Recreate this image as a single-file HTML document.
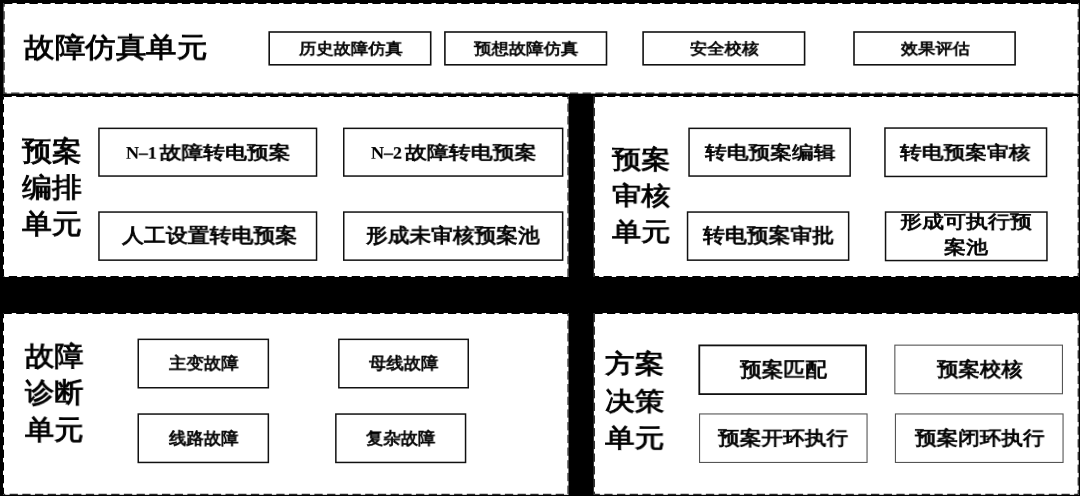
<!DOCTYPE html>
<html><head><meta charset="utf-8"><style>
html,body{margin:0;padding:0;background:#000;width:1080px;height:496px;overflow:hidden}
svg{position:absolute;left:0;top:0}
.t{position:absolute;white-space:nowrap;font-family:"Liberation Serif",serif;font-weight:normal;color:#000;transform-origin:0 0;will-change:transform}
</style></head><body>
<svg width="1080" height="496" viewBox="0 0 1080 496">
<rect x="0" y="0" width="1080" height="496" fill="#000"/>
<rect x="3.6" y="3.0" width="1075.10" height="90.60" fill="#fff"/>
<rect x="4.10" y="3.50" width="1074.10" height="89.60" fill="none" stroke="#000" stroke-width="1.0" stroke-dasharray="8.3 4.4"/>
<rect x="3.0" y="96.0" width="565.50" height="181.00" fill="#fff"/>
<rect x="3.50" y="96.50" width="564.50" height="180.00" fill="none" stroke="#000" stroke-width="1.0" stroke-dasharray="8.3 4.4"/>
<rect x="593.8" y="96.0" width="484.90" height="181.00" fill="#fff"/>
<rect x="594.30" y="96.50" width="483.90" height="180.00" fill="none" stroke="#000" stroke-width="1.0" stroke-dasharray="8.3 4.4"/>
<rect x="3.0" y="313.0" width="565.50" height="181.80" fill="#fff"/>
<rect x="3.50" y="313.50" width="564.50" height="180.80" fill="none" stroke="#000" stroke-width="1.0" stroke-dasharray="8.3 4.4"/>
<rect x="593.8" y="313.0" width="484.90" height="181.80" fill="#fff"/>
<rect x="594.30" y="313.50" width="483.90" height="180.80" fill="none" stroke="#000" stroke-width="1.0" stroke-dasharray="8.3 4.4"/>
<rect x="269.20" y="32.00" width="161.50" height="32.80" fill="none" stroke="#111" stroke-width="1.6"/>
<rect x="444.90" y="32.00" width="161.60" height="32.80" fill="none" stroke="#111" stroke-width="1.6"/>
<rect x="643.10" y="32.00" width="161.50" height="32.80" fill="none" stroke="#111" stroke-width="1.6"/>
<rect x="854.00" y="32.00" width="161.10" height="32.80" fill="none" stroke="#111" stroke-width="1.6"/>
<rect x="98.95" y="128.35" width="217.60" height="47.70" fill="none" stroke="#111" stroke-width="1.5"/>
<rect x="98.95" y="212.05" width="217.60" height="48.10" fill="none" stroke="#111" stroke-width="1.5"/>
<rect x="343.75" y="128.35" width="218.90" height="47.70" fill="none" stroke="#111" stroke-width="1.5"/>
<rect x="343.75" y="212.05" width="218.90" height="48.10" fill="none" stroke="#111" stroke-width="1.5"/>
<rect x="689.05" y="128.35" width="161.10" height="47.70" fill="none" stroke="#111" stroke-width="1.5"/>
<rect x="687.55" y="212.05" width="161.10" height="48.10" fill="none" stroke="#111" stroke-width="1.5"/>
<rect x="884.95" y="128.05" width="161.60" height="48.40" fill="none" stroke="#111" stroke-width="1.5"/>
<rect x="885.55" y="212.05" width="161.40" height="48.50" fill="none" stroke="#111" stroke-width="1.5"/>
<rect x="138.25" y="339.35" width="130.10" height="48.40" fill="none" stroke="#111" stroke-width="1.5"/>
<rect x="138.25" y="414.05" width="130.10" height="48.40" fill="none" stroke="#111" stroke-width="1.5"/>
<rect x="338.85" y="339.35" width="129.40" height="48.40" fill="none" stroke="#111" stroke-width="1.5"/>
<rect x="335.85" y="414.05" width="129.70" height="48.40" fill="none" stroke="#111" stroke-width="1.5"/>
<rect x="699.30" y="345.40" width="166.70" height="48.70" fill="none" stroke="#111" stroke-width="1.8"/>
<rect x="699.55" y="413.95" width="167.50" height="48.50" fill="none" stroke="#555" stroke-width="1.1"/>
<rect x="894.85" y="345.15" width="167.60" height="48.60" fill="none" stroke="#555" stroke-width="1.1"/>
<rect x="895.45" y="413.95" width="167.60" height="48.50" fill="none" stroke="#555" stroke-width="1.1"/>
</svg>
<div id="t1" class="t" style="left:24.00px;top:31.28px;font-size:30px;line-height:36px;transform:scale(1.0169,0.917);-webkit-text-stroke:1.0px #000;text-align:left;">故障仿真单元</div>
<div id="t2" class="t" style="left:298.56px;top:39.52px;font-size:18px;line-height:20px;transform:scale(0.9601,0.864);-webkit-text-stroke:0.8px #000;text-align:left;">历史故障仿真</div>
<div id="t3" class="t" style="left:474.00px;top:39.52px;font-size:18px;line-height:20px;transform:scale(0.9658,0.867);-webkit-text-stroke:0.8px #000;text-align:left;">预想故障仿真</div>
<div id="t4" class="t" style="left:689.88px;top:39.52px;font-size:18px;line-height:20px;transform:scale(0.9588,0.864);-webkit-text-stroke:0.8px #000;text-align:left;">安全校核</div>
<div id="t5" class="t" style="left:900.78px;top:39.52px;font-size:18px;line-height:20px;transform:scale(0.954,0.864);-webkit-text-stroke:0.8px #000;text-align:left;">效果评估</div>
<div id="t6" class="t" style="left:22.12px;top:133.00px;font-size:30px;line-height:40.19px;transform:scale(0.9976,0.91);-webkit-text-stroke:1.0px #000;text-align:left;">预案<br>编排<br>单元</div>
<div id="t7" class="t" style="left:126.22px;top:142.78px;font-size:22px;line-height:24px;transform:scale(0.9907,0.823);-webkit-text-stroke:0.9px #000;text-align:left;"><span style="display:inline-block;width:34px"><span style="display:inline-block;transform:scaleX(0.82);transform-origin:0 0;font-weight:bold;-webkit-text-stroke:0.2px #000">N–1</span></span>故障转电预案</div>
<div id="t8" class="t" style="left:121.66px;top:224.88px;font-size:22px;line-height:24px;transform:scale(0.9954,0.899);-webkit-text-stroke:0.9px #000;text-align:left;">人工设置转电预案</div>
<div id="t9" class="t" style="left:371.12px;top:142.78px;font-size:22px;line-height:24px;transform:scale(0.9968,0.823);-webkit-text-stroke:0.9px #000;text-align:left;"><span style="display:inline-block;width:34px"><span style="display:inline-block;transform:scaleX(0.82);transform-origin:0 0;font-weight:bold;-webkit-text-stroke:0.2px #000">N–2</span></span>故障转电预案</div>
<div id="t10" class="t" style="left:366.22px;top:224.88px;font-size:22px;line-height:24px;transform:scale(0.9866,0.899);-webkit-text-stroke:0.9px #000;text-align:left;">形成未审核预案池</div>
<div id="t11" class="t" style="left:612.34px;top:140.98px;font-size:30px;line-height:43.18px;transform:scale(0.9745,0.842);-webkit-text-stroke:1.0px #000;text-align:left;">预案<br>审核<br>单元</div>
<div id="t12" class="t" style="left:704.88px;top:142.78px;font-size:22px;line-height:24px;transform:scale(0.9881,0.823);-webkit-text-stroke:0.9px #000;text-align:left;">转电预案编辑</div>
<div id="t13" class="t" style="left:703.12px;top:224.88px;font-size:22px;line-height:24px;transform:scale(0.9935,0.899);-webkit-text-stroke:0.9px #000;text-align:left;">转电预案审批</div>
<div id="t14" class="t" style="left:900.22px;top:142.78px;font-size:22px;line-height:24px;transform:scale(0.9881,0.823);-webkit-text-stroke:0.9px #000;text-align:left;">转电预案审核</div>
<div id="t15" class="t" style="left:900.42px;top:209.10px;font-size:22px;line-height:31.4px;transform:scale(0.9992,0.819);-webkit-text-stroke:0.9px #000;text-align:center;width:132px;">形成可执行预<br>案池</div>
<div id="t16" class="t" style="left:24.56px;top:338.12px;font-size:30px;line-height:40.32px;transform:scale(0.9758,0.91);-webkit-text-stroke:1.0px #000;text-align:left;">故障<br>诊断<br>单元</div>
<div id="t17" class="t" style="left:169.00px;top:354.08px;font-size:18px;line-height:20px;transform:scale(0.9667,0.92);-webkit-text-stroke:0.8px #000;text-align:left;">主变故障</div>
<div id="t18" class="t" style="left:168.56px;top:429.20px;font-size:18px;line-height:20px;transform:scale(0.9649,0.934);-webkit-text-stroke:0.8px #000;text-align:left;">线路故障</div>
<div id="t19" class="t" style="left:369.22px;top:354.08px;font-size:18px;line-height:20px;transform:scale(0.9633,0.924);-webkit-text-stroke:0.8px #000;text-align:left;">母线故障</div>
<div id="t20" class="t" style="left:366.22px;top:429.20px;font-size:18px;line-height:20px;transform:scale(0.9627,0.934);-webkit-text-stroke:0.8px #000;text-align:left;">复杂故障</div>
<div id="t21" class="t" style="left:605.22px;top:345.30px;font-size:30px;line-height:43.52px;transform:scale(0.9902,0.855);-webkit-text-stroke:1.0px #000;text-align:left;">方案<br>决策<br>单元</div>
<div id="t22" class="t" style="left:740.12px;top:358.66px;font-size:22px;line-height:24px;transform:scale(0.987,0.91);-webkit-text-stroke:0.9px #000;text-align:left;">预案匹配</div>
<div id="t23" class="t" style="left:718.22px;top:428.12px;font-size:22px;line-height:24px;transform:scale(0.9856,0.869);-webkit-text-stroke:0.9px #000;text-align:left;">预案开环执行</div>
<div id="t24" class="t" style="left:936.78px;top:358.66px;font-size:22px;line-height:24px;transform:scale(0.975,0.885);-webkit-text-stroke:0.9px #000;text-align:left;">预案校核</div>
<div id="t25" class="t" style="left:915.22px;top:428.12px;font-size:22px;line-height:24px;transform:scale(0.9814,0.869);-webkit-text-stroke:0.9px #000;text-align:left;">预案闭环执行</div>
</body></html>
